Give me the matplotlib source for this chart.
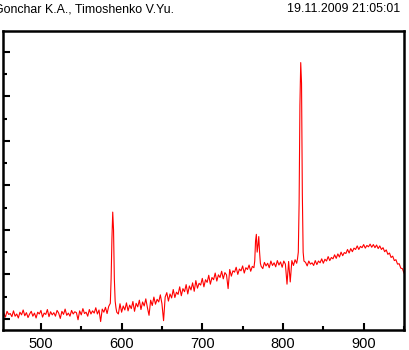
import numpy as np
import matplotlib
matplotlib.use("Agg")
import matplotlib.pyplot as plt
from matplotlib.ticker import MultipleLocator

plt.rcParams['font.family'] = ['Liberation Sans', 'DejaVu Sans']

header_left = "Gonchar K.A., Timoshenko V.Yu."
header_right = "19.11.2009 21:05:01"

# Segment A: 454..584 nm, step 2
wl_a = np.arange(454, 586, 2)
int_a = [130, 40, 170, 100, 120, 50, 180, 60, 110, 20, 150, 90, 200, 70, 140, 30,
         110, 170, 60, 130, 20, 150, 110, 190, 40, 130, 100, 210, 50, 160, 90, 140,
         60, 190, 130, 10, 170, 100, 220, 80, 130, 60, 190, 110, 160, 140, -20, 180,
         90, 230, 120, 150, 60, 210, 110, 180, 130, 250, 110, 200, -60, 220, 150, 260,
         120, 280]

# Na line
wl_p1 = [586, 587, 588, 589, 590, 591, 592, 593, 594]
int_p1 = [350, 900, 1800, 2400, 2000, 900, 400, 250, 150]

# Segment B: 596..764 nm, step 2
wl_b = np.arange(596, 766, 2)
int_b = [110, 340, 150, 290, 200, 360, 180, 310, 230, 390, 170, 350, 270, 420, 210, 380,
         290, 450, 250, 80, 420, 300, 490, 330, 440, 380, 540, 340, -40, 490, 590, 400,
         560, 470, 660, 480, 600, 550, 720, 520, 680, 610, 770, 560, 740, 650, 810, 620,
         860, 690, 800, 760, 910, 720, 880, 820, 980, 780, 930, 880, 1030, 850, 990, 930,
         1070, 900, 1040, 990, 680, 1110, 960, 1080, 1050, 1160, 1000, 1120, 1080, 1190, 1030, 1150,
         1110, 1210, 1070, 1180, 1150]

# K doublet
wl_p2 = [765, 766, 767, 768, 769, 770, 771, 772, 773]
int_p2 = [1300, 1750, 1900, 1500, 1650, 1850, 1500, 1250, 1180]

# Segment C: 775..817 nm, step 2
wl_c = np.arange(775, 819, 2)
int_c = [1130, 1270, 1190, 1250, 1150, 1300, 1200, 1260, 1170, 1310, 1210, 1280,
         1160, 1300, 1230, 780, 1290, 830, 1310, 1200, 1330, 1250]

# Main line
wl_p3 = [818, 819, 820, 821, 822, 823, 824, 825, 826]
int_p3 = [1350, 1500, 2600, 4800, 5760, 5300, 2800, 1500, 1300]

# Segment D: 828..950 nm, step 2
wl_d = np.arange(828, 952, 2)
int_d = [1270, 1190, 1300, 1230, 1260, 1200, 1310, 1220, 1300, 1260, 1350, 1250, 1340, 1300,
         1400, 1310, 1380, 1350, 1440, 1360, 1460, 1390, 1500, 1420, 1490, 1470, 1560, 1480,
         1580, 1510, 1590, 1560, 1640, 1560, 1630, 1600, 1670, 1590, 1650, 1620, 1680, 1610,
         1670, 1600, 1660, 1580, 1640, 1560, 1600, 1510, 1550, 1450, 1480, 1380, 1410, 1310,
         1330, 1230, 1240, 1140, 1130, 1030]

wl = np.concatenate([wl_a, wl_p1, wl_b, wl_p2, wl_c, wl_p3, wl_d])
inten = np.concatenate([int_a, int_p1, int_b, int_p2, int_c, int_p3, int_d])

fig = plt.figure(figsize=(4.1, 3.5), dpi=100)
ax = fig.add_axes([3 / 410, 20 / 350, 401 / 410, 299 / 350])
ax.plot(wl, inten, color='#ff0000', lw=0.8)

ax.set_xlim(453, 950)
ax.set_ylim(-250, 6470)
ax.xaxis.set_major_locator(MultipleLocator(100))
ax.xaxis.set_minor_locator(MultipleLocator(50))
ax.yaxis.set_major_locator(MultipleLocator(1000))
ax.yaxis.set_minor_locator(MultipleLocator(500))
ax.tick_params(which='both', direction='in', top=False, right=False, width=1.5, color='black')
ax.tick_params(which='major', length=5)
ax.tick_params(which='minor', length=3)
ax.tick_params(axis='x', labelsize=10.5, pad=5)
ax.tick_params(axis='y', labelleft=False)
for s in ax.spines.values():
    s.set_linewidth(1.8)

fig.text(-6 / 410, 1 - 9 / 350, header_left, fontsize=8.9, va='center', ha='left')
fig.text(400 / 410, 1 - 9 / 350, header_right, fontsize=8.9, va='center', ha='right')

fig.savefig("out.png", dpi=100)
